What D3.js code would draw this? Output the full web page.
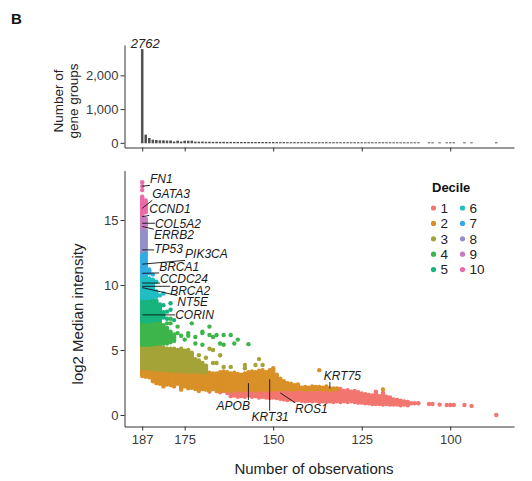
<!DOCTYPE html>
<head>
<meta charset="utf-8">
<script src="https://d3js.org/d3.v7.min.js"></script>
<style>

body {
  margin: 0;
  background: white;
  font-family: 'Liberation Sans', Arial, sans-serif;
}

.axis path, .axis line {
  stroke: #333;
  stroke-width: 1;
}

.axis text {
  fill: #3a3a3a;
  font-size: 13px;
  font-family: 'Liberation Sans', Arial, sans-serif;
}

.gene_label {
  font-size: 12px;
  font-style: italic;
  fill: #1a1a1a;
}

.gene_line {
  stroke: #111;
  stroke-width: 0.9;
}

</style>
</head>

<body>
<div id="plotContainer"></div>
<script>

// ---- histogram: number of gene groups per number of observations ----
var histObs = [187,186,185,184,183,182,181,180,179,178,177,176,175,174,173,
  172,171,170,169,168,167,166,165,164,163,162,161,160,159,158,157,156,155,154,153,152,151,150,
  149,148,147,146,145,144,143,142,141,140,139,138,137,136,135,134,133,132,131,130,
  129,128,127,126,125,124,123,122,121,120,119,118,117,116,115,114,113,112,
  111,110,109,106,105,103,101,100,99,96,94,87];
var histCounts = [2762,230,130,80,70,60,60,55,55,25,50,25,50,50,50,
  22,20,24,18,20,16,18,15,17,14,15,12,14,12,11,12,10,11,9,10,9,8,9,
  8,7,8,7,6,7,6,6,5,6,5,5,4,5,4,4,5,4,3,4,
  3,3,4,3,3,2,3,3,2,2,3,2,2,2,2,1,2,1,
  1,1,1,1,1,1,1,1,1,1,1,1];

// ---- deciles ----
var decileLabels = ["1","2","3","4","5","6","7","8","9","10"];
var decileColors = ["#F2766F","#D99027","#A3A338","#3DB54A","#17B47E",
                    "#20BDC2","#31ADE4","#9390C9","#C77CBF","#EB6AA8"];

// dense runs of overlapping points: [decile, observations, low, high]
var stretches = [
  // decile 1
  [1,162,1.45,1.8],[1,161,1.5,1.8],[1,160,1.4,1.85],[1,159,1.45,1.8],[1,158,1.4,1.85],
  [1,157,1.5,1.85],[1,156,1.4,1.85],[1,155,1.45,1.8],[1,154,1.35,1.85],[1,153,1.4,1.85],
  [1,152,1.35,1.85],[1,151,1.3,1.9],[1,150,1.35,1.9],[1,149,1.3,1.9],[1,148,1.25,1.9],
  [1,147,1.2,1.95],[1,146,1.15,1.95],[1,145,1.2,1.95],[1,144,1.1,1.95],[1,143,1.15,1.95],
  [1,142,1.1,1.95],[1,141,1.05,1.9],[1,140,1.1,1.95],[1,139,1.05,1.9],[1,138,1.1,1.95],
  [1,137,1.0,1.9],[1,136,1.05,1.9],[1,135,1.0,1.95],[1,134,1.05,1.9],[1,133,1.0,1.95],
  [1,132,1.05,1.9],[1,131,1.0,2.0],[1,130,1.05,1.85],[1,129,1.0,1.9],[1,128,1.05,1.8],
  [1,127,1.0,1.85],[1,126,0.95,1.75],[1,125,0.95,1.65],[1,124,0.9,1.6],[1,123,0.9,1.55],
  [1,122,0.85,1.5],[1,121,0.85,1.8],[1,120,0.85,1.45],[1,119,0.8,1.7],[1,118,0.85,1.4],
  [1,117,0.8,1.35],[1,116,0.8,1.2],[1,115,0.8,1.15],[1,114,0.75,1.1],[1,113,0.8,1.05],
  [1,112,0.75,1.0],
  // decile 2
  [2,187,3.0,3.6],[2,186,2.95,3.6],[2,185,2.9,3.55],[2,184,2.6,3.55],[2,183,2.45,3.5],
  [2,182,2.4,3.5],[2,181,2.2,3.45],[2,180,2.35,3.45],[2,179,2.3,3.4],[2,178,2.2,3.4],
  [2,177,2.4,3.4],[2,176,1.95,3.4],[2,175,2.2,3.35],[2,174,2.05,3.35],[2,173,2.1,3.35],
  [2,172,2.0,3.3],[2,171,1.85,3.3],[2,170,2.0,3.3],[2,169,1.95,3.3],[2,168,1.9,3.25],
  [2,167,2.0,3.2],[2,166,1.85,3.2],[2,165,1.9,3.3],[2,164,1.85,3.35],[2,163,1.9,3.3],
  [2,162,1.85,3.2],[2,161,1.9,3.25],[2,160,1.95,3.15],[2,159,1.9,3.1],[2,158,1.95,3.2],
  [2,157,1.9,3.3],[2,156,1.95,3.35],[2,155,1.9,3.3],[2,154,1.95,3.4],[2,153,1.9,3.45],
  [2,152,1.95,3.3],[2,151,1.95,3.45],[2,150,1.95,3.6],[2,149,2.0,3.1],[2,148,1.95,2.8],
  [2,147,2.0,2.6],[2,146,2.0,2.45],[2,145,1.95,2.4],[2,144,2.0,2.3],[2,143,2.0,2.35],
  [2,142,2.0,2.1],[2,141,1.95,2.15],[2,140,2.0,2.1],[2,139,1.95,2.2],[2,138,2.0,2.15],
  [2,137,2.0,2.15],[2,136,1.95,2.1],[2,135,2.0,2.2],[2,134,1.95,2.05],[2,133,1.95,2.05],
  [2,132,2.0,2.05],
  // decile 3
  [3,187,3.6,5.4],[3,186,3.6,5.4],[3,185,3.55,5.4],[3,184,3.5,5.4],[3,183,3.5,5.4],
  [3,182,3.5,5.35],[3,181,3.45,5.2],[3,180,3.45,5.1],[3,179,3.4,5.1],[3,178,3.4,5.1],
  [3,177,3.4,5.0],[3,176,3.4,5.1],[3,175,3.35,4.95],[3,174,3.35,5.0],[3,173,3.35,4.8],
  [3,172,3.35,4.3],[3,171,3.3,4.2],[3,170,3.3,4.0],[3,169,3.3,3.8],
  // decile 4
  [4,187,5.4,7.2],[4,186,5.4,7.2],[4,185,5.4,7.2],[4,184,5.45,7.2],[4,183,5.45,7.2],
  [4,182,5.5,7.1],[4,181,5.5,6.9],[4,180,5.5,6.7],[4,179,5.6,6.4],[4,178,5.7,6.2],
  // decile 5
  [5,187,7.2,9.0],[5,186,7.2,9.0],[5,185,7.2,8.95],[5,184,7.25,8.9],[5,183,7.3,8.8],
  [5,182,7.3,8.5],[5,181,7.5,7.9],
  // decile 6
  [6,187,9.0,10.8],[6,186,9.0,10.7],[6,185,9.0,10.5],[6,184,9.1,10.3],[6,183,9.1,9.5],
  // decile 7
  [7,187,10.8,12.6],[7,186,10.8,12.5],[7,185,10.9,11.2],
  // decile 8
  [8,187,12.6,14.4],[8,186,12.7,14.2],
  // decile 9
  [9,187,14.4,15.4],[9,186,14.5,15.1],
  // decile 10
  [10,187,15.4,16.8],[10,186,15.6,16.5]
];

// single points: [decile, observations, value]
var points = [
  [1,168,1.8],[1,165,1.75],[1,163,1.7],[1,111,0.9],[1,110,0.9],[1,109,0.9],[1,106,0.85],
  [1,105,0.85],[1,103,0.8],[1,101,0.77],[1,100,0.77],[1,99,0.77],[1,96,0.77],[1,94,0.7],
  [1,87,0.0],
  [2,137,3.45],[2,119,1.97],
  [3,168,5.1],[3,167,5.0],[3,165,4.6],[3,167,4.0],[3,166,4.0],[3,164,3.7],[3,162,3.7],
  [3,158,3.85],[3,155,3.85],[3,153,3.85],[3,154,4.3],[3,171,4.6],[3,169,4.4],[3,158,3.6],
  [4,180,7.05],[4,179,7.4],[4,179,7.05],[4,177,6.8],[4,177,6.3],[4,176,6.1],[4,175,5.8],
  [4,174,6.3],[4,174,6.1],[4,173,7.05],[4,172,6.0],[4,172,5.5],[4,170,6.4],[4,170,6.3],
  [4,170,5.4],[4,168,6.8],[4,168,6.15],[4,167,6.0],[4,166,6.15],[4,165,5.5],[4,164,6.15],
  [4,164,5.4],[4,162,6.15],[4,161,5.5],[4,160,5.8],[4,157,5.45],
  [5,181,8.45],[5,180,7.95],[5,179,8.1],[5,179,8.6],[5,178,7.3],[5,180,7.4],
  [6,184,10.4],[6,183,10.25],[6,182,9.2],[6,181,9.35],
  [7,184,10.8],
  [10,187,17.3],[10,187,17.6],[10,187,17.9]
];

// labelled gene groups: point and label anchor (left end of text baseline), both in data units
var geneNames  = ["FN1","GATA3","CCND1","COL5A2","ERRB2","TP53","PIK3CA","BRCA1","CCDC24","BRCA2","NT5E","CORIN","APOB","KRT31","ROS1","KRT75"];
var geneObs    = [187,187,187,187,187,187,187,187,187,187,187,187,157,151,148,134];
var geneValues = [17.6,15.9,15.25,14.75,14.5,12.7,11.6,10.9,10.15,9.9,9.8,7.7,2.45,2.75,1.7,2.05];
var labelObs    = [184.8,184.15,185.0,183.4,183.7,183.6,174.9,182.2,182.0,179.1,177.1,177.7,166.0,156.1,143.85,135.7];
var labelValues = [17.82,16.67,15.51,14.41,13.52,12.44,12.05,11.08,10.13,9.23,8.42,7.38,0.38,-0.44,0.18,2.69];

var xTicks = [187,175,150,125,100];
var yTicks = [0,5,10,15];
var countTicks = [0,1000,2000];

var svg = d3.select("#plotContainer")
    .append("svg")
    .attr("width", 532)
    .attr("height", 481);

var x = d3.scaleLinear().domain([192, 82]).range([124.5, 514]);
var y = d3.scaleLinear().domain([-0.885, 18.8]).range([426.5, 170.6]);
var yc = d3.scaleLinear().domain([-138, 2900]).range([147.5, 45]);

// panel letter
svg.append("text")
    .attr("x", 11).attr("y", 24)
    .attr("font-size", 15).attr("font-weight", "bold")
    .attr("fill", "#111")
    .text("B");

// ---------- top panel ----------
svg.append("g")
    .attr("class", "axis")
    .attr("transform", "translate(0,147.5)")
    .call(d3.axisBottom(x).tickValues(xTicks).tickSize(4).tickSizeOuter(0).tickFormat(""));

svg.append("g")
    .attr("class", "axis")
    .attr("transform", "translate(124.5,0)")
    .call(d3.axisLeft(yc).tickValues(countTicks).tickSize(4).tickSizeOuter(0).tickPadding(2)
        .tickFormat(d3.format(",")));

svg.selectAll(".bar")
    .data(histObs)
    .enter()
    .append("rect")
    .attr("class", "bar")
    .attr("x", function(d) { return x(d) - 0.8; })
    .attr("width", 1.6)
    .attr("y", function(d, i) { return yc(histCounts[i]); })
    .attr("height", function(d, i) { return yc(0) - yc(histCounts[i]); })
    .attr("fill", "#4d4d4d")
    .attr("stroke", "#4d4d4d")
    .attr("stroke-width", 0.9);

var maxI = histCounts.indexOf(d3.max(histCounts));
svg.append("text")
    .attr("x", x(histObs[maxI]) + 3)
    .attr("y", yc(histCounts[maxI]) - 1.5)
    .attr("text-anchor", "middle")
    .attr("font-size", 13).attr("font-style", "italic")
    .attr("fill", "#222")
    .text(histCounts[maxI]);

var topTitle = svg.append("text")
    .attr("transform", "translate(66,101) rotate(-90)")
    .attr("text-anchor", "middle")
    .attr("font-size", 13.5)
    .attr("fill", "#222");
topTitle.append("tspan").attr("x", 0).attr("dy", "-0.25em").text("Number of");
topTitle.append("tspan").attr("x", 0).attr("dy", "1.15em").text("gene groups");

// ---------- bottom panel ----------
svg.append("g")
    .attr("class", "axis")
    .attr("transform", "translate(0,426.5)")
    .call(d3.axisBottom(x).tickValues(xTicks).tickSize(4).tickSizeOuter(0).tickPadding(4));

svg.append("g")
    .attr("class", "axis")
    .attr("transform", "translate(124.5,0)")
    .call(d3.axisLeft(y).tickValues(yTicks).tickSize(4).tickSizeOuter(0).tickPadding(2));

svg.append("text")
    .attr("x", 314).attr("y", 474)
    .attr("text-anchor", "middle")
    .attr("font-size", 15)
    .attr("fill", "#222")
    .text("Number of observations");

svg.append("text")
    .attr("transform", "translate(78,314) rotate(-90)")
    .attr("text-anchor", "middle")
    .attr("dy", "0.35em")
    .attr("font-size", 15)
    .attr("fill", "#222")
    .text("log2 Median intensity");

// points, decile by decile
var plot_content = svg.append("g").attr("id", "plot_content");
decileLabels.forEach(function(lab, k) {
  var dec = k + 1;
  plot_content.selectAll(".s" + dec)
      .data(stretches.filter(function(d) { return d[0] == dec; }))
      .enter()
      .append("line")
      .attr("class", "s" + dec)
      .attr("x1", function(d) { return x(d[1]); })
      .attr("x2", function(d) { return x(d[1]); })
      .attr("y1", function(d) { return y(d[2]); })
      .attr("y2", function(d) { return y(d[3]); })
      .attr("stroke", decileColors[k])
      .attr("stroke-width", 4.4)
      .attr("stroke-linecap", "round");
  plot_content.selectAll(".p" + dec)
      .data(points.filter(function(d) { return d[0] == dec; }))
      .enter()
      .append("circle")
      .attr("class", "p" + dec)
      .attr("cx", function(d) { return x(d[1]); })
      .attr("cy", function(d) { return y(d[2]); })
      .attr("r", 2.2)
      .attr("fill", decileColors[k]);
});

// gene labels with leader lines to nearest edge of the label box
var labels = svg.append("g");
geneNames.forEach(function(name, i) {
  var t = labels.append("text")
      .attr("class", "gene_label")
      .attr("x", x(labelObs[i]))
      .attr("y", y(labelValues[i]))
      .text(name);
  var b = t.node().getBBox();
  var px = x(geneObs[i]), py = y(geneValues[i]);
  var ex = Math.max(b.x, Math.min(px, b.x + b.width));
  var ey = Math.max(b.y + 1, Math.min(py, b.y + b.height - 1));
  labels.insert("line", "text")
      .attr("class", "gene_line")
      .attr("x1", px).attr("y1", py)
      .attr("x2", ex).attr("y2", ey);
});

// legend
var legend = svg.append("g");
legend.append("text")
    .attr("x", 432).attr("y", 192)
    .attr("font-size", 13).attr("font-weight", "bold")
    .attr("fill", "#111")
    .text("Decile");

var keys = legend.selectAll(".key")
    .data(decileLabels)
    .enter()
    .append("g")
    .attr("class", "key")
    .attr("transform", function(d, i) {
      return "translate(" + (433.5 + Math.floor(i / 5) * 29) + "," + (208 + (i % 5) * 15.4) + ")";
    });
keys.append("circle")
    .attr("r", 2.6)
    .attr("fill", function(d, i) { return decileColors[i]; });
keys.append("text")
    .attr("x", 7).attr("y", 4.7)
    .attr("font-size", 13.5)
    .attr("fill", "#222")
    .text(function(d) { return d; });

</script>
</body>
